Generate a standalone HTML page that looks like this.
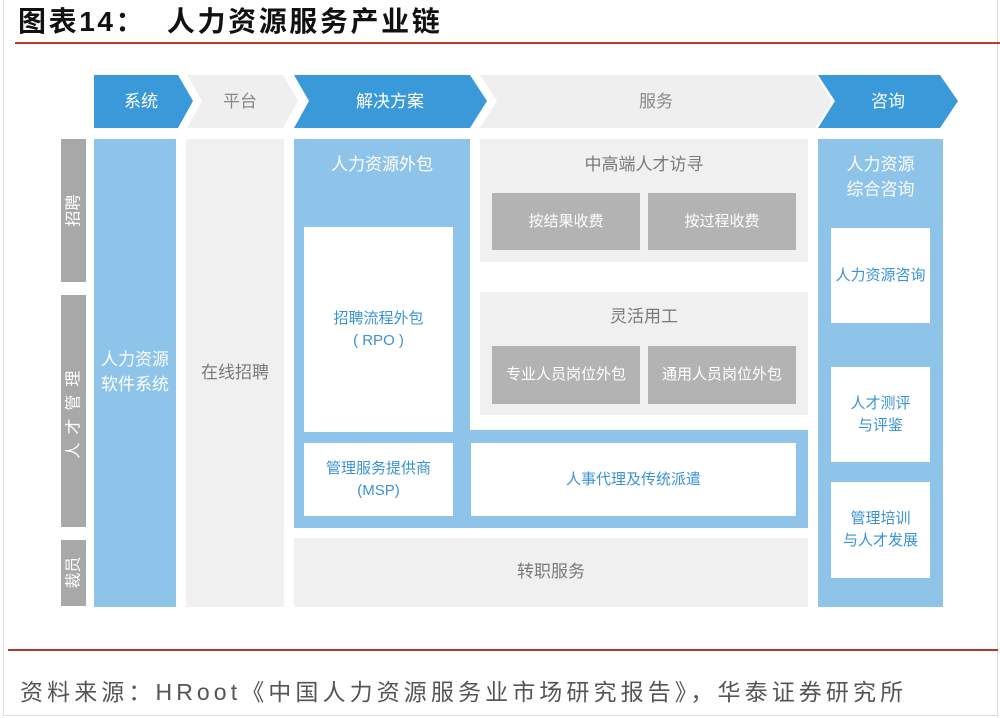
<!DOCTYPE html>
<html><head><meta charset="utf-8"><style>
*{margin:0;padding:0;box-sizing:border-box}
body{width:1000px;height:718px;background:#fff;position:relative;overflow:hidden;font-family:"Liberation Sans","Noto Sans CJK SC",sans-serif}
.a{position:absolute;display:flex;align-items:center;justify-content:center;text-align:center;line-height:1.45}
.lb{background:#8ec4ea}.gr{background:#f0f0f0}.wh{background:#fff}.dg{background:#b3b3b3;color:#fff}.tg{background:#a8a8a8;color:#fff}
.bt{color:#3a93d6}.gt{color:#7a7a7a}.wt{color:#fff}
.rot{display:inline-block;transform:rotate(-90deg);white-space:nowrap;font-size:16px}
</style></head><body>
<div style="position:absolute;left:3px;top:0;width:995px;height:716px;border:1px solid #ddd;border-top:none"></div>
<div style="position:absolute;left:18px;top:0px;font-size:28px;font-weight:bold;color:#111;letter-spacing:2.6px;white-space:nowrap">图表14：&nbsp;&nbsp;人力资源服务产业链</div>
<div style="position:absolute;left:15px;top:42px;width:985px;height:2px;background:#c0392b"></div>
<svg style="position:absolute;left:0;top:0" width="1000" height="140">
<polygon points="94,75 178,75 193,101 178,128 94,128" fill="#3a9ad9"/>
<polygon points="187,75 283,75 298,101 283,128 187,128 202,101" fill="#efefef"/>
<polygon points="294,75 470,75 487,101 470,128 294,128 309,101" fill="#3a9ad9"/>
<polygon points="480,75 815,75 832,101 815,128 480,128 497,101" fill="#efefef"/>
<polygon points="818,75 940,75 958,101 940,128 818,128 835,101" fill="#3a9ad9"/>
<text x="141" y="107" font-size="17" fill="#fff" text-anchor="middle" font-family="Noto Sans CJK SC,sans-serif">系统</text>
<text x="240" y="107" font-size="17" fill="#888" text-anchor="middle" font-family="Noto Sans CJK SC,sans-serif">平台</text>
<text x="390" y="107" font-size="17" fill="#fff" text-anchor="middle" font-family="Noto Sans CJK SC,sans-serif">解决方案</text>
<text x="656" y="107" font-size="17" fill="#888" text-anchor="middle" font-family="Noto Sans CJK SC,sans-serif">服务</text>
<text x="888" y="107" font-size="17" fill="#fff" text-anchor="middle" font-family="Noto Sans CJK SC,sans-serif">咨询</text>
</svg>
<div class="a tg" style="left:61px;top:139px;width:25px;height:143px"><span class="rot">招聘</span></div>
<div class="a tg" style="left:61px;top:295px;width:25px;height:232px"><span class="rot" style="letter-spacing:8px">人才管理</span></div>
<div class="a tg" style="left:61px;top:540px;width:25px;height:66px"><span class="rot">裁员</span></div>
<div class="a lb wt" style="left:94px;top:139px;width:82px;height:468px;font-size:17px">人力资源<br>软件系统</div>
<div class="a gr gt" style="left:186px;top:139px;width:98px;height:468px;font-size:17px">在线招聘</div>
<div class="a lb" style="left:294px;top:139px;width:176px;height:389px"></div>
<div class="a lb" style="left:294px;top:430px;width:514px;height:98px"></div>
<div class="a wt" style="left:294px;top:148px;width:176px;height:34px;font-size:17px">人力资源外包</div>
<div class="a wh bt" style="left:304px;top:227px;width:149px;height:205px;font-size:15px">招聘流程外包<br>( RPO )</div>
<div class="a wh bt" style="left:304px;top:443px;width:149px;height:73px;font-size:15px">管理服务提供商<br>(MSP)</div>
<div class="a wh bt" style="left:471px;top:443px;width:325px;height:73px;font-size:15px">人事代理及传统派遣</div>
<div class="a gr" style="left:480px;top:139px;width:328px;height:123px"></div>
<div class="a gt" style="left:480px;top:148px;width:328px;height:34px;font-size:17px">中高端人才访寻</div>
<div class="a dg" style="left:492px;top:193px;width:148px;height:57px;font-size:15px">按结果收费</div>
<div class="a dg" style="left:648px;top:193px;width:148px;height:57px;font-size:15px">按过程收费</div>
<div class="a gr" style="left:480px;top:292px;width:328px;height:123px"></div>
<div class="a gt" style="left:480px;top:300px;width:328px;height:34px;font-size:17px">灵活用工</div>
<div class="a dg" style="left:492px;top:346px;width:148px;height:58px;font-size:15px">专业人员岗位外包</div>
<div class="a dg" style="left:648px;top:346px;width:148px;height:58px;font-size:15px">通用人员岗位外包</div>
<div class="a gr gt" style="left:294px;top:538px;width:514px;height:69px;font-size:17px">转职服务</div>
<div class="a lb" style="left:818px;top:139px;width:125px;height:468px"></div>
<div class="a wt" style="left:818px;top:148px;width:125px;height:60px;font-size:17px">人力资源<br>综合咨询</div>
<div class="a wh bt" style="left:831px;top:228px;width:99px;height:95px;font-size:15px">人力资源咨询</div>
<div class="a wh bt" style="left:831px;top:367px;width:99px;height:95px;font-size:15px">人才测评<br>与评鉴</div>
<div class="a wh bt" style="left:831px;top:482px;width:99px;height:96px;font-size:15px">管理培训<br>与人才发展</div>
<div style="position:absolute;left:8px;top:649px;width:990px;height:2px;background:#b03a2e"></div>
<div style="position:absolute;left:20px;top:673px;font-size:23px;color:#555;white-space:nowrap;letter-spacing:4.1px">资料来源：HRoot《中国人力资源服务业市场研究报告》，华泰证券研究所</div>
</body></html>
